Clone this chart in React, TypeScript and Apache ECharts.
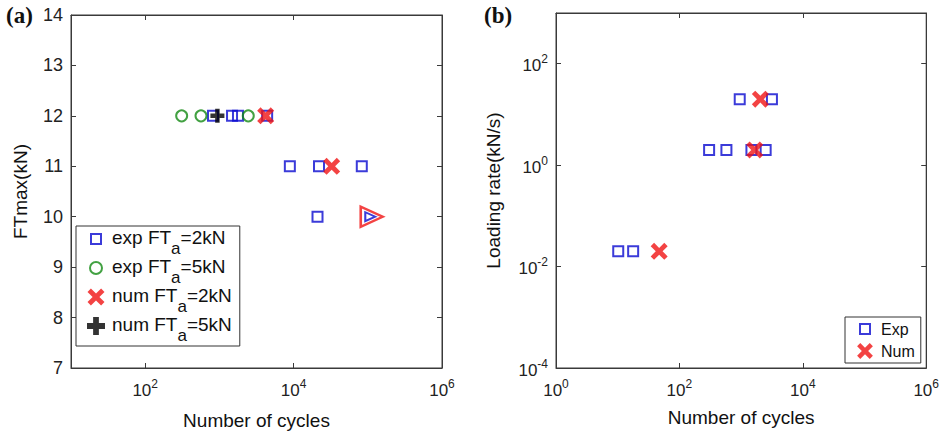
import React, { useEffect, useRef } from "react";
import * as echarts from "echarts";

// ---- Data (panel a) ----
const aExp2X = [820, 1480, 1780, 4400, 8900, 22000, 83000, 21000];
const aExp2Y = [12, 12, 12, 12, 11, 11, 11, 10];
const aExp5X = [310, 565, 2450];
const aExp5Y = [12, 12, 12];
const aNum2X = [4200, 32600];
const aNum2Y = [12, 11];
const aNum5X = [940];
const aNum5Y = [12];
const aRunoutExpX = [108000];
const aRunoutExpY = [10];
const aRunoutNumX = [113000];
const aRunoutNumY = [10];
const aXTicks = [100, 10000, 1000000];

// ---- Data (panel b) ----
const bExpX = [950, 3160, 303, 578, 1470, 2500, 10.2, 17.8];
const bExpY = [20, 20, 2, 2, 2, 2, 0.02, 0.02];
const bNumX = [2050, 1660, 47];
const bNumY = [20, 2, 0.02];
const bXTicks = [1, 100, 10000, 1000000];
const bYTicks = [0.0001, 0.01, 1, 100];

const legendA = ["exp FTa=2kN", "exp FTa=5kN", "num FTa=2kN", "num FTa=5kN"];
const legendB = ["Exp", "Num"];

const BLUE = "#0a0ad0";
const GREEN = "#138a13";
const RED = "#f01414";
const BLACK = "#000000";
const FONT = "Liberation Sans";
const AXC = "#3a3a3a";

const X_D = "M0,2 L2,0 L5,3 L8,0 L10,2 L7,5 L10,8 L8,10 L5,7 L2,10 L0,8 L3,5 Z";
const PLUS_D = "M3.4,0 L6.6,0 L6.6,3.4 L10,3.4 L10,6.6 L6.6,6.6 L6.6,10 L3.4,10 L3.4,6.6 L0,6.6 L0,3.4 L3.4,3.4 Z";
const X_PATH = "path://" + X_D;
const PLUS_PATH = "path://" + PLUS_D;
// legend icons (invisible move-to points pad the icon box)
const ICON_SQ = "path://M0,0 M18,18 M4,4 L14,4 L14,14 L4,14 Z";
const ICON_CI = "path://M0,0 M18,18 M3,9 A6,6 0 1,1 15,9 A6,6 0 1,1 3,9 Z";
const ICON_X = "path://M-0.3,-0.3 M10.3,10.3 " + X_D;
const ICON_PLUS = "path://" + PLUS_D;
const ICON_XB = "path://M-0.7,-0.7 M10.7,10.7 " + X_D;

const zip = (xs: number[], ys: number[]) => xs.map((x, i) => [x, ys[i]]);

const powLabel = (v: number) => {
  const e = Math.round(Math.log10(v));
  return `{b|10}{e|${e}}`;
};

const powRich = (size: number) => ({
  b: { fontSize: size, fontFamily: FONT, color: "#222", verticalAlign: "bottom", lineHeight: size + 2 },
  e: { fontSize: Math.round(size * 0.68), fontFamily: FONT, color: "#222", verticalAlign: "bottom", padding: [0, 0, 9, 0] },
});

function logXAxis(grid: number, min: number, max: number, ticks: number[], pos: "bottom" | "top", name?: string, nameGap?: number) {
  return {
    type: "log",
    logBase: 10,
    gridIndex: grid,
    min,
    max,
    position: pos,
    axisLine: { show: true, onZero: false, lineStyle: { color: AXC, width: 1 } },
    axisTick: { show: true, inside: true, length: 5, customValues: ticks, lineStyle: { color: AXC } },
    axisLabel: {
      show: pos === "bottom",
      customValues: ticks,
      formatter: powLabel,
      rich: powRich(17),
      margin: 10,
    },
    splitLine: { show: false },
    minorTick: { show: false },
    name: pos === "bottom" ? name : "",
    nameLocation: "middle",
    nameGap: nameGap,
    nameTextStyle: { fontFamily: FONT, fontSize: 19, color: "#111" },
  };
}

export default function App() {
  const ref = useRef<HTMLDivElement>(null);
  useEffect(() => {
    if (!ref.current) return;
    const chart = echarts.init(ref.current, undefined, { renderer: "svg" });

    const legendFormatter = (name: string) => {
      const m = name.match(/^(\w+) FTa(=\dkN)$/);
      if (!m) return name;
      return `{t|${m[1]} FT}{s|a}{t|${m[2]}}`;
    };

    const option: any = {
      animation: false,
      backgroundColor: "#ffffff",
      grid: [
        { left: 71, top: 15, width: 371, height: 353, show: true, borderColor: AXC, borderWidth: 1, backgroundColor: "transparent" },
        { left: 556, top: 13, width: 371, height: 355, show: true, borderColor: AXC, borderWidth: 1, backgroundColor: "transparent" },
      ],
      xAxis: [
        logXAxis(0, 10, 1000000, aXTicks, "bottom", "Number of cycles", 43),
        logXAxis(0, 10, 1000000, aXTicks, "top"),
        logXAxis(1, 1, 1000000, bXTicks, "bottom", "Number of cycles", 40),
        logXAxis(1, 1, 1000000, bXTicks, "top"),
      ],
      yAxis: [
        {
          type: "value",
          gridIndex: 0,
          min: 7,
          max: 14,
          interval: 1,
          position: "left",
          axisLine: { show: true, onZero: false, lineStyle: { color: AXC } },
          axisTick: { show: true, inside: true, length: 5, lineStyle: { color: AXC } },
          axisLabel: { fontSize: 18, fontFamily: FONT, color: "#222", margin: 8 },
          splitLine: { show: false },
          name: "FTmax(kN)",
          nameLocation: "middle",
          nameGap: 41,
          nameTextStyle: { fontFamily: FONT, fontSize: 19, color: "#111" },
        },
        {
          type: "value",
          gridIndex: 0,
          min: 7,
          max: 14,
          interval: 1,
          position: "right",
          axisLine: { show: true, onZero: false, lineStyle: { color: AXC } },
          axisTick: { show: true, inside: true, length: 5, lineStyle: { color: AXC } },
          axisLabel: { show: false },
          splitLine: { show: false },
        },
        {
          type: "log",
          logBase: 10,
          gridIndex: 1,
          min: 0.0001,
          max: 1000,
          position: "left",
          axisLine: { show: true, onZero: false, lineStyle: { color: AXC } },
          axisTick: { show: true, inside: true, length: 5, customValues: bYTicks, lineStyle: { color: AXC } },
          axisLabel: { customValues: bYTicks, formatter: powLabel, rich: powRich(17), margin: 8 },
          splitLine: { show: false },
          minorTick: { show: false },
          name: "Loading rate(kN/s)",
          nameLocation: "middle",
          nameGap: 53,
          nameTextStyle: { fontFamily: FONT, fontSize: 19, color: "#111" },
        },
        {
          type: "log",
          logBase: 10,
          gridIndex: 1,
          min: 0.0001,
          max: 1000,
          position: "right",
          axisLine: { show: true, onZero: false, lineStyle: { color: AXC } },
          axisTick: { show: true, inside: true, length: 5, customValues: bYTicks, lineStyle: { color: AXC } },
          axisLabel: { show: false },
          splitLine: { show: false },
          minorTick: { show: false },
        },
      ],
      legend: [
        {
          data: [
            { name: legendA[0], icon: ICON_SQ },
            { name: legendA[1], icon: ICON_CI },
            { name: legendA[2], icon: ICON_X },
            { name: legendA[3], icon: ICON_PLUS },
          ],
          orient: "vertical",
          left: 76,
          top: 226,
          padding: [2, 8, 2, 10],
          itemGap: 0,
          itemWidth: 22,
          itemHeight: 18,
          symbolKeepAspect: true,
          borderColor: "#333",
          borderWidth: 1,
          backgroundColor: "#fff",
          selectedMode: false,
          formatter: legendFormatter,
          textStyle: {
            rich: {
              t: { fontSize: 19, fontFamily: FONT, color: "#111", verticalAlign: "top", lineHeight: 22 },
              s: { fontSize: 17, fontFamily: FONT, color: "#111", verticalAlign: "top", lineHeight: 22, padding: [12, 0, 0, 0] },
            },
          },
        },
        {
          data: [
            { name: legendB[0], icon: ICON_SQ },
            { name: legendB[1], icon: ICON_XB },
          ],
          orient: "vertical",
          left: 845,
          top: 317,
          padding: [2, 6, 2, 10],
          itemGap: 2,
          itemWidth: 22,
          itemHeight: 18,
          symbolKeepAspect: true,
          borderColor: "#333",
          borderWidth: 1,
          backgroundColor: "#fff",
          selectedMode: false,
          textStyle: { fontSize: 16, fontFamily: FONT, color: "#111", lineHeight: 20 },
        },
      ],
      series: [
        {
          name: legendA[0],
          type: "scatter",
          xAxisIndex: 0,
          yAxisIndex: 0,
          symbol: "rect",
          symbolSize: 10,
          itemStyle: { color: "rgba(255,255,255,0)", borderColor: BLUE, borderWidth: 2 },
          data: zip(aExp2X, aExp2Y),
        },
        {
          name: legendA[1],
          type: "scatter",
          xAxisIndex: 0,
          yAxisIndex: 0,
          symbol: "circle",
          symbolSize: 11,
          itemStyle: { color: "rgba(255,255,255,0)", borderColor: GREEN, borderWidth: 2 },
          data: zip(aExp5X, aExp5Y),
        },
        {
          name: "runoutNum",
          type: "scatter",
          xAxisIndex: 0,
          yAxisIndex: 0,
          symbol: "triangle",
          symbolRotate: -90,
          symbolSize: [20, 22],
          itemStyle: { color: "rgba(255,255,255,0)", borderColor: RED, borderWidth: 2.5 },
          data: zip(aRunoutNumX, aRunoutNumY),
        },
        {
          name: "runoutExp",
          type: "scatter",
          xAxisIndex: 0,
          yAxisIndex: 0,
          symbol: "triangle",
          symbolRotate: -90,
          symbolSize: [9, 10],
          itemStyle: { color: "rgba(255,255,255,0)", borderColor: BLUE, borderWidth: 2 },
          data: zip(aRunoutExpX, aRunoutExpY),
        },
        {
          name: legendA[2],
          type: "scatter",
          xAxisIndex: 0,
          yAxisIndex: 0,
          symbol: X_PATH,
          symbolSize: 17,
          itemStyle: { color: RED },
          data: zip(aNum2X, aNum2Y),
        },
        {
          name: legendA[3],
          type: "scatter",
          xAxisIndex: 0,
          yAxisIndex: 0,
          symbol: PLUS_PATH,
          symbolSize: 14,
          itemStyle: { color: BLACK },
          data: zip(aNum5X, aNum5Y),
        },
        {
          name: legendB[0],
          type: "scatter",
          xAxisIndex: 2,
          yAxisIndex: 2,
          symbol: "rect",
          symbolSize: 10,
          itemStyle: { color: "rgba(255,255,255,0)", borderColor: BLUE, borderWidth: 2 },
          data: zip(bExpX, bExpY),
        },
        {
          name: legendB[1],
          type: "scatter",
          xAxisIndex: 2,
          yAxisIndex: 2,
          symbol: X_PATH,
          symbolSize: 17,
          itemStyle: { color: RED },
          data: zip(bNumX, bNumY),
        },
      ],
      graphic: [
        { type: "text", left: 6, top: 4, style: { text: "(a)", font: 'bold 23px "Liberation Serif"', fill: "#111" } },
        { type: "text", left: 484, top: 4, style: { text: "(b)", font: 'bold 23px "Liberation Serif"', fill: "#111" } },
      ],
    };

    chart.setOption(option);
    return () => chart.dispose();
  }, []);

  return (
    <div
      ref={ref}
      style={{ position: "fixed", left: 0, top: 0, width: 942, height: 435, background: "#fff" }}
    />
  );
}
